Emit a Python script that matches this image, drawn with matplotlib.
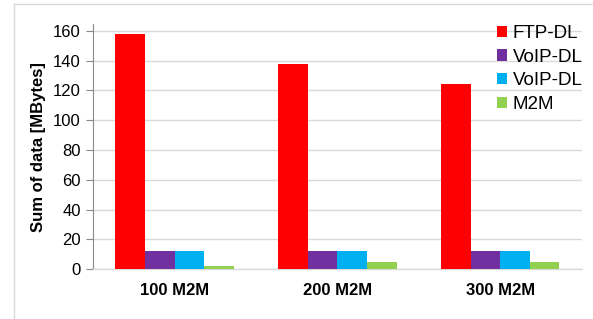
import matplotlib
matplotlib.use("Agg")
import matplotlib.pyplot as plt
import numpy as np
from matplotlib.lines import Line2D
from matplotlib.patches import Patch

categories = ["100 M2M", "200 M2M", "300 M2M"]
series_names = ["FTP-DL", "VoIP-DL", "VoIP-DL", "M2M"]
ftp_dl = [158, 138, 124.5]
voip_dl_1 = [12, 12, 12]
voip_dl_2 = [12, 12, 12.3]
m2m = [2.2, 4.9, 4.9]
colors = ["#FF0000", "#7030A0", "#00B0F0", "#92D050"]
yticks = [0, 20, 40, 60, 80, 100, 120, 140, 160]

plt.rcParams['font.family'] = ['Liberation Sans', 'DejaVu Sans']

fig = plt.figure(figsize=(5.93, 3.19), dpi=100)
ax = fig.add_axes([93.3/593, 1-269.3/319, (581.5-93.3)/593, (269.3-24)/319])

x = np.arange(len(categories))
w = 1/5.5
all_series = [ftp_dl, voip_dl_1, voip_dl_2, m2m]
for i, (vals, c) in enumerate(zip(all_series, colors)):
    ax.bar(x + (i - 1.5) * w, vals, width=w, color=c, zorder=3)

ax.set_xlim(-0.5, 2.5)
ax.set_ylim(0, 164.6)
ax.set_yticks(yticks)
ax.set_xticks(x)
ax.set_xticklabels(categories, fontweight='bold', fontsize=12)
ax.tick_params(axis='x', length=0, pad=10)
ax.tick_params(axis='y', length=5, color='#888888', width=0.8, labelsize=12, pad=4)
ax.yaxis.grid(True, color='#d9d9d9', linewidth=1)
ax.set_axisbelow(True)
for s in ['top', 'right']:
    ax.spines[s].set_visible(False)
ax.spines['left'].set_color('#888888')
ax.spines['left'].set_linewidth(0.8)
ax.spines['bottom'].set_color('#d9d9d9')
ax.spines['bottom'].set_linewidth(1)
ax.set_ylabel("Sum of data [MBytes]", fontweight='bold', fontsize=12, labelpad=5)

handles = [Patch(facecolor=c, edgecolor='none') for c in colors]
leg = fig.legend(handles, series_names, loc='upper left',
                 bbox_to_anchor=(495/593, 1-23/319), frameon=True, fontsize=13.5,
                 handlelength=0.55, handleheight=0.55, handletextpad=0.3,
                 labelspacing=0.36, borderpad=0.1, borderaxespad=0)
leg.get_frame().set_edgecolor('none')
leg.get_frame().set_facecolor('none')

# outer frame lines (left and top)
fig.add_artist(Line2D([13.5/593, 13.5/593], [0, 1-3.5/319], color='#d9d9d9', linewidth=1))
fig.add_artist(Line2D([13.5/593, 1], [1-3.5/319, 1-3.5/319], color='#d9d9d9', linewidth=1))

fig.savefig("out.png", dpi=100)
